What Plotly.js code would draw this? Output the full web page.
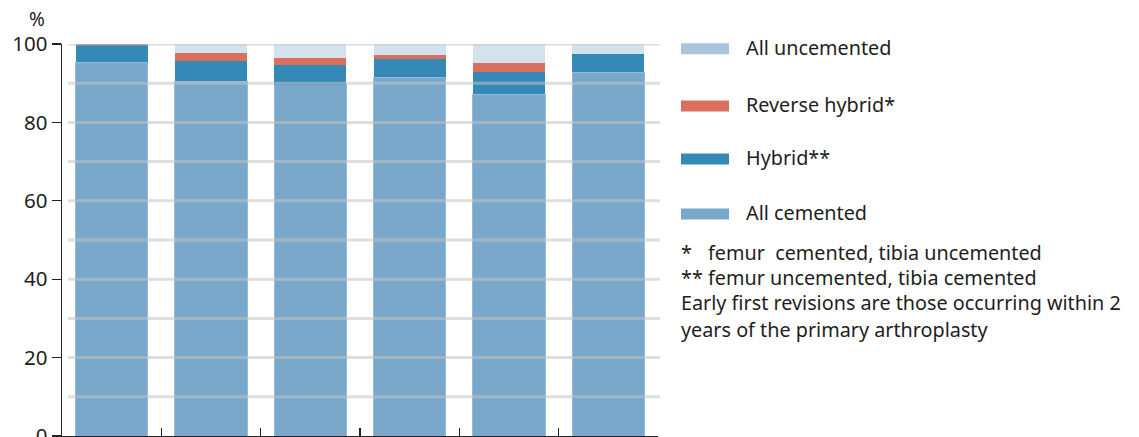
<!DOCTYPE html>
<html><head><meta charset="utf-8">
<script src="https://cdn.plot.ly/plotly-3.0.1.min.js"></script>
<style>html,body{margin:0;padding:0;background:#fff;} #chart{width:1139px;height:437px;}</style>
</head><body><div id="chart"></div>
<script>
// ---- data ----
const categories = ['Period 1', 'Period 2', 'Period 3', 'Period 4', 'Period 5', 'Period 6'];
const allCemented   = [95.4, 90.5, 89.6, 91.5, 87.2, 92.8];
const hybrid        = [4.4, 5.1, 5.0, 4.7, 5.7, 4.6];
const reverseHybrid = [0.2, 2.1, 1.8, 1.0, 2.2, 0.1];
const allUncemented = [0.0, 2.3, 3.6, 2.8, 4.9, 2.5];
const seriesNames = ['All uncemented', 'Reverse hybrid*', 'Hybrid**', 'All cemented'];
const yTickVals = [0, 20, 40, 60, 80, 100];
const yTickText = ['0', '20', '40', '60', '80', '100'];
const gridVals = [10, 20, 30, 40, 50, 60, 70, 80, 90, 100];
const noteMarks = ['*', '**', '', ''];
const noteLines = ['femur\u00a0 cemented, tibia uncemented', 'femur uncemented, tibia cemented',
  'Early first revisions are those occurring within 2', 'years of the primary arthroplasty'];

// ---- style ----
const W = 1139, H = 437;
const M = {l: 62, r: 481, t: 44, b: 1};
const PW = W - M.l - M.r, PH = H - M.t - M.b;
const px2x = p => (p - M.l) / PW;
const px2y = p => 1 - (p - M.t) / PH;
const FONT = 'Noto Sans, sans-serif';
const TXT = '#1e1e1e';
const FS = 19.8;
const barColors = {
  cem: '#7aa8cb', hyb: '#3589b7', rev: '#d9705e', unc: 'rgba(169,197,221,0.5)'
};
const legendColors = ['#a9c5dd', '#d9705e', '#3589b7', '#7aa8cb'];

const traces = [
  {name: seriesNames[3], y: allCemented, color: barColors.cem, line: {width: 1, color: '#97b9d6'}},
  {name: seriesNames[2], y: hybrid, color: barColors.hyb, line: {width: 0}},
  {name: seriesNames[1], y: reverseHybrid, color: barColors.rev, line: {width: 0}},
  {name: seriesNames[0], y: allUncemented, color: barColors.unc, line: {width: 0}}
].map(t => ({
  type: 'bar', x: categories, y: t.y, name: t.name,
  marker: {color: t.color, line: t.line},
  showlegend: false, hoverinfo: 'name+y'
}));

const shapes = [], annotations = [];
gridVals.forEach(v => {
  shapes.push({type: 'line', xref: 'paper', yref: 'y', layer: 'above',
    x0: px2x(68), x1: px2x(660), y0: v, y1: v,
    line: {color: 'rgba(195,195,195,0.55)', width: 3}});
});
const legendRowY = [48.8, 106, 159, 214];
seriesNames.forEach((n, i) => {
  shapes.push({type: 'rect', xref: 'paper', yref: 'paper', layer: 'above',
    x0: px2x(681), x1: px2x(729), y0: px2y(legendRowY[i] - 5.5), y1: px2y(legendRowY[i] + 5.5),
    fillcolor: legendColors[i], line: {width: 0}});
  annotations.push({xref: 'paper', yref: 'paper', x: px2x(744), y: px2y(legendRowY[i] - 1.5),
    xanchor: 'left', yanchor: 'middle', showarrow: false, text: n,
    font: {family: FONT, size: FS, color: TXT}});
});
const noteY = [252, 277, 302, 329];
noteLines.forEach((t, i) => {
  if (noteMarks[i]) {
    annotations.push({xref: 'paper', yref: 'paper', x: px2x(679), y: px2y(noteY[i]),
      xanchor: 'left', yanchor: 'middle', showarrow: false, text: noteMarks[i],
      font: {family: FONT, size: FS, color: TXT}});
  }
  annotations.push({xref: 'paper', yref: 'paper', x: px2x(noteMarks[i] ? 706 : 679), y: px2y(noteY[i]),
    xanchor: 'left', yanchor: 'middle', showarrow: false, text: t,
    font: {family: FONT, size: FS, color: TXT}});
});
annotations.push({xref: 'paper', yref: 'paper', x: px2x(37), y: px2y(19),
  xanchor: 'center', yanchor: 'middle', showarrow: false, text: '%',
  font: {family: FONT, size: 19, color: TXT}});

const layout = {
  width: W, height: H, margin: M,
  paper_bgcolor: '#fff', plot_bgcolor: '#fff',
  barmode: 'stack', bargap: 0.275,
  font: {family: FONT, size: 18, color: TXT},
  xaxis: {type: 'category', range: [-0.5, 5.5], showline: true, linecolor: '#222', linewidth: 1.5,
    ticks: 'inside', ticklen: 8, tickcolor: '#222', tickwidth: 1.2, tickson: 'boundaries',
    showticklabels: false, showgrid: false, zeroline: false, layer: 'above traces', fixedrange: true},
  yaxis: {range: [0, 100], tickvals: yTickVals, ticktext: yTickText, ticks: 'outside', ticklen: 9,
    tickcolor: '#222', tickwidth: 1.2, showline: true, linecolor: '#222', linewidth: 1.5,
    showgrid: false, zeroline: false, ticklabeloverflow: 'allow',
    tickfont: {family: FONT, size: 20.5, color: TXT}, layer: 'above traces', fixedrange: true},
  shapes: shapes, annotations: annotations, showlegend: false
};
Plotly.newPlot('chart', traces, layout, {displayModeBar: false, staticPlot: true});
</script>
</body></html>
